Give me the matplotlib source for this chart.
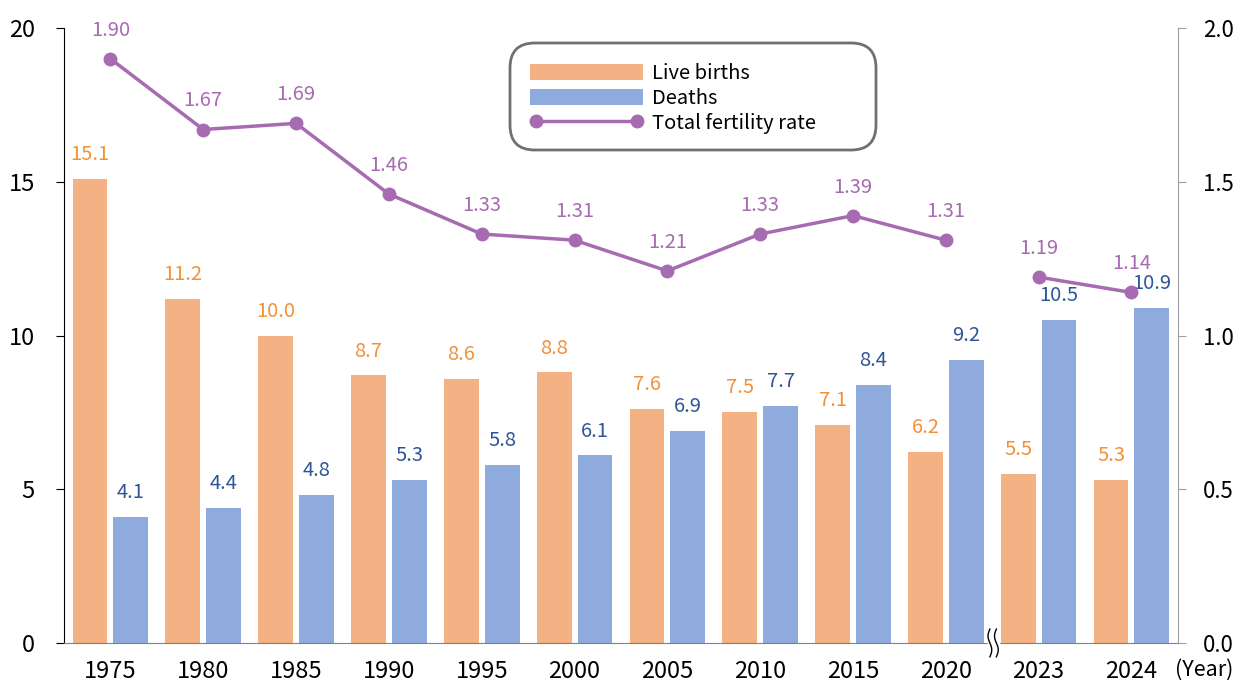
import matplotlib
matplotlib.use("Agg")
import matplotlib.pyplot as plt
from matplotlib.patches import FancyBboxPatch
import numpy as np

plt.rcParams['font.family'] = ['Noto Sans CJK JP', 'DejaVu Sans']

years = ['1975', '1980', '1985', '1990', '1995', '2000', '2005', '2010', '2015', '2020', '2023', '2024']
births = [15.1, 11.2, 10.0, 8.7, 8.6, 8.8, 7.6, 7.5, 7.1, 6.2, 5.5, 5.3]
deaths = [4.1, 4.4, 4.8, 5.3, 5.8, 6.1, 6.9, 7.7, 8.4, 9.2, 10.5, 10.9]
tfr = [1.90, 1.67, 1.69, 1.46, 1.33, 1.31, 1.21, 1.33, 1.39, 1.31, 1.19, 1.14]

c_birth = '#f4b183'
c_death = '#8faadc'
c_birth_txt = '#f0923a'
c_death_txt = '#2f5597'
c_line = '#a66bb0'

fig = plt.figure(figsize=(12.41, 6.84), dpi=100)
ax = fig.add_axes([0.0516, 0.06, 0.8975, 0.899])
ax2 = ax.twinx()

x = np.arange(len(years))
w = 0.375
off = 0.22
ax.bar(x - off, births, w, color=c_birth, label='Live births', zorder=2)
ax.bar(x + off, deaths, w, color=c_death, label='Deaths', zorder=2)

for xi, v in zip(x, births):
    ax.annotate(f'{v:.1f}', (xi - off, v), xytext=(0, 10), textcoords='offset points',
                ha='center', va='bottom', fontsize=14.5, color=c_birth_txt)
for xi, v in zip(x, deaths):
    ax.annotate(f'{v:.1f}', (xi + off, v), xytext=(0, 10), textcoords='offset points',
                ha='center', va='bottom', fontsize=14.5, color=c_death_txt)

# line with a gap between 2020 and 2023
ax2.plot(x[:10], tfr[:10], color=c_line, lw=2.5, marker='o', ms=9, zorder=3)
ax2.plot(x[10:], tfr[10:], color=c_line, lw=2.5, marker='o', ms=9, zorder=3)
for xi, v in zip(x, tfr):
    ax2.annotate(f'{v:.2f}', (xi, v), xytext=(0, 13), textcoords='offset points',
                 ha='center', va='bottom', fontsize=14.5, color=c_line)

ax.set_xlim(-0.5, len(years) - 0.5)
ax.set_ylim(0, 20)
ax2.set_ylim(0, 2.0)
ax.set_yticks([0, 5, 10, 15, 20])
ax2.set_yticks([0, 0.5, 1.0, 1.5, 2.0])
ax2.set_yticklabels(['0.0', '0.5', '1.0', '1.5', '2.0'])
ax.set_xticks(x)
ax.set_xticklabels(years)

ax.tick_params(axis='x', length=0, labelsize=17, pad=12)
ax.tick_params(axis='y', length=6, labelsize=17, pad=15, color='black')
ax2.tick_params(axis='y', length=6, labelsize=16, pad=12, color='#a0a0a0')

for a in (ax, ax2):
    a.spines['top'].set_visible(False)
ax.spines['right'].set_visible(False)
ax.spines['bottom'].set_color('#808080')
ax.spines['left'].set_color('black')
ax2.spines['left'].set_visible(False)
ax2.spines['bottom'].set_visible(False)
ax2.spines['right'].set_color('#a0a0a0')

fig.text(1175 / 1241, 1 - 670 / 684, '(Year)', fontsize=15.5, ha='left', va='center')

# axis break mark between 2020 and 2023
bx = 9.51
ax.add_patch(plt.Rectangle((bx - 0.06, -0.2), 0.12, 0.4, color='white', clip_on=False, zorder=5))
t = np.linspace(-1, 1, 30)
for dx in (-0.035, 0.035):
    ax.plot(bx + dx - 0.02 * np.sin(t * np.pi), t * 0.45, color='black', lw=1,
            clip_on=False, zorder=6)

# legend
frame = FancyBboxPatch((510 / 1241, 1 - 150 / 684), 366 / 1241, 107 / 684,
                       boxstyle='round,pad=0,rounding_size=0.02', transform=fig.transFigure,
                       facecolor='white', edgecolor='#707070', lw=2, zorder=9,
                       mutation_aspect=1241 / 684)
fig.add_artist(frame)
h1, l1 = ax.get_legend_handles_labels()
h2 = ax2.get_lines()[:1]
leg = fig.legend(h1 + h2, l1 + ['Total fertility rate'], loc='upper left',
                 bbox_to_anchor=(530 / 1241, 1 - 63 / 684), fontsize=14.5, frameon=False,
                 handlelength=5.6, handleheight=0.9, numpoints=2,
                 borderpad=0, labelspacing=0.2, handletextpad=0.45, borderaxespad=0)
leg.set_zorder(10)

fig.savefig('out.png', dpi=100)
